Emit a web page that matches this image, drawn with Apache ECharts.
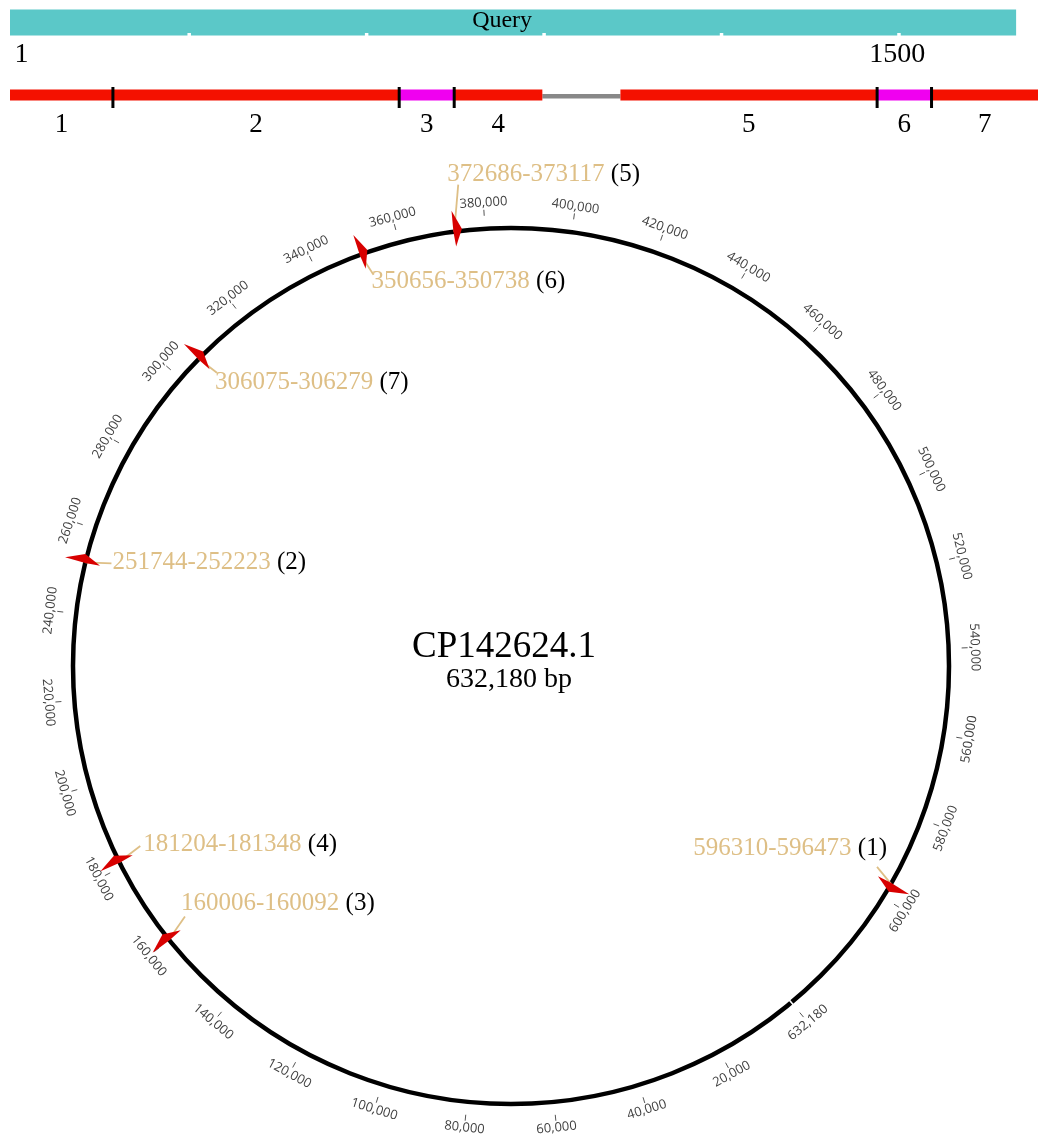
<!DOCTYPE html>
<html>
<head>
<meta charset="utf-8">
<script src="https://cdn.jsdelivr.net/npm/echarts@6/dist/echarts.min.js"></script>
<style>
html,body{margin:0;padding:0;background:#fff;}
#main{width:1038px;height:1138px;}
</style>
</head>
<body>
<div id="main"></div>
<script>
// ---------------- data ----------------
const genomeName = 'CP142624.1';
const genomeSizeLabel = '632,180 bp';
const genomeLength = 632180;

const tickValues = [20000, 40000, 60000, 80000, 100000, 120000, 140000, 160000, 180000, 200000,
  220000, 240000, 260000, 280000, 300000, 320000, 340000, 360000, 380000, 400000,
  420000, 440000, 460000, 480000, 500000, 520000, 540000, 560000, 580000, 600000, 632180];
const tickLabels = ['20,000', '40,000', '60,000', '80,000', '100,000', '120,000', '140,000', '160,000', '180,000', '200,000',
  '220,000', '240,000', '260,000', '280,000', '300,000', '320,000', '340,000', '360,000', '380,000', '400,000',
  '420,000', '440,000', '460,000', '480,000', '500,000', '520,000', '540,000', '560,000', '580,000', '600,000', '632,180'];

const hitIds    = [1, 2, 3, 4, 5, 6, 7];
const hitStarts = [596310, 251744, 160006, 181204, 372686, 350656, 306075];
const hitEnds   = [596473, 252223, 160092, 181348, 373117, 350738, 306279];

const queryLength = 1701;
const queryTickValues = [300, 600, 900, 1200, 1500];
const queryEndValues = [1, 1500];
const queryEndLabels = ['1', '1500'];
const queryTitle = 'Query';

const segNames  = ['1', '2', '3', '4', '5', '6', '7'];
const segStarts = [0, 174, 658, 751, 1032, 1466, 1558];
const segEnds   = [174, 658, 751, 900, 1466, 1558, 1738];
const segKinds  = ['a', 'a', 'b', 'a', 'a', 'b', 'a'];
const gapStart = 900, gapEnd = 1032;
const separatorValues = [174, 658, 751, 1466, 1558];
const subjectMax = 1738;

// ---------------- layout / style ----------------
const R = 438;
const TAN = '#DEBF86';
const MARK_RED = '#d80000';
const SEG_COLORS = {a: '#f41100', b: '#f000f0'};
const SERIF = '"Liberation Serif","Times New Roman",serif';
const SANS = '"Open Sans","Noto Sans",sans-serif';
// label anchor / connector end offsets (px) relative to each hit mark
const hitLabelLayout = [
  {dx: -4, dy: -35, lx: -14, ly: -17, align: 'right'},
  {dx: 27, dy: 0, lx: 26, ly: 1, align: 'left'},
  {dx: 12, dy: -36, lx: 16, ly: -23, align: 'left'},
  {dx: 24, dy: -17, lx: 21, ly: -16, align: 'left'},
  {dx: -7, dy: -57, lx: 4, ly: -47, align: 'left'},
  {dx: 11, dy: 27, lx: 13, ly: 20, align: 'left'},
  {dx: 16, dy: 24, lx: 18, ly: 14, align: 'left'}
];

const chart = echarts.init(document.getElementById('main'), null, {renderer: 'canvas', width: 1038, height: 1138});

function textRotation(p, cs) {
  const a = Math.atan2(-(p[1] - cs.cy), p[0] - cs.cx);
  let rot = a - Math.PI / 2;
  while (rot > Math.PI) rot -= 2 * Math.PI;
  while (rot <= -Math.PI) rot += 2 * Math.PI;
  if (rot > Math.PI / 2 + 1e-6) rot -= Math.PI;
  else if (rot < -Math.PI / 2 - 1e-6) rot += Math.PI;
  return rot;
}

const option = {
  animation: false,
  backgroundColor: '#ffffff',
  grid: {left: 10, right: 0, top: 0, height: 150, show: false},
  xAxis: {type: 'value', min: 0, max: subjectMax, show: false},
  yAxis: {type: 'value', min: 0, max: 150, inverse: true, show: false},
  polar: {center: [511, 666], radius: [0, R]},
  angleAxis: {
    type: 'value', min: 0, max: genomeLength, startAngle: -50.2, clockwise: true,
    axisLine: {show: true, lineStyle: {color: '#000', width: 4.5}},
    axisTick: {show: false}, axisLabel: {show: false},
    splitLine: {show: false}, splitArea: {show: false}
  },
  radiusAxis: {type: 'value', min: 0, max: R, show: false, splitLine: {show: false}, axisLine: {show: false}, axisTick: {show: false}, axisLabel: {show: false}},
  graphic: [
    {type: 'text', x: 504, y: 647, style: {text: genomeName, font: '37px ' + SERIF, fill: '#000', align: 'center', verticalAlign: 'middle'}},
    {type: 'text', x: 509, y: 680, style: {text: genomeSizeLabel, font: '28px ' + SERIF, fill: '#000', align: 'center', verticalAlign: 'middle'}}
  ],
  series: [
    // query bar
    {
      type: 'custom', coordinateSystem: 'cartesian2d', silent: true,
      data: [[0, queryLength]], encode: {x: [0, 1]},
      renderItem(params, api) {
        const a = api.coord([api.value(0), 9.5]);
        const b = api.coord([api.value(1), 35.5]);
        const t = api.coord([832, 21]);
        return {type: 'group', children: [
          {type: 'rect', shape: {x: a[0], y: a[1], width: b[0] - a[0], height: b[1] - a[1]}, style: {fill: '#5bc8c8'}},
          {type: 'text', x: t[0], y: t[1], style: {text: queryTitle, font: '24px ' + SERIF, fill: '#000', align: 'center', verticalAlign: 'middle'}}
        ]};
      }
    },
    // query notches
    {
      type: 'custom', coordinateSystem: 'cartesian2d', silent: true,
      data: queryTickValues.map(v => [v]), encode: {x: 0},
      renderItem(params, api) {
        const p = api.coord([api.value(0), 33]);
        return {type: 'rect', shape: {x: p[0], y: p[1], width: 3.5, height: 3}, style: {fill: '#ffffff'}};
      }
    },
    // query end labels
    {
      type: 'custom', coordinateSystem: 'cartesian2d', silent: true,
      data: queryEndValues.map(v => [v]), encode: {x: 0},
      renderItem(params, api) {
        const i = params.dataIndex;
        const p = api.coord([api.value(0), 55]);
        return {type: 'text', x: i === 0 ? p[0] + 4 : p[0], y: p[1], style: {text: queryEndLabels[i], font: '28px ' + SERIF, fill: '#000', align: i === 0 ? 'left' : 'center', verticalAlign: 'middle'}};
      }
    },
    // subject gap line
    {
      type: 'custom', coordinateSystem: 'cartesian2d', silent: true,
      data: [[gapStart, gapEnd]], encode: {x: [0, 1]},
      renderItem(params, api) {
        const a = api.coord([api.value(0), 94]);
        const b = api.coord([api.value(1), 98.5]);
        return {type: 'rect', shape: {x: a[0], y: a[1], width: b[0] - a[0], height: b[1] - a[1]}, style: {fill: '#888888'}};
      }
    },
    // subject segments
    {
      type: 'custom', coordinateSystem: 'cartesian2d', silent: true,
      data: segStarts.map((s, i) => [s, segEnds[i]]), encode: {x: [0, 1]},
      renderItem(params, api) {
        const i = params.dataIndex;
        const a = api.coord([api.value(0), 89.5]);
        const b = api.coord([api.value(1), 100.5]);
        const m = api.coord([(api.value(0) + api.value(1)) / 2, 125]);
        return {type: 'group', children: [
          {type: 'rect', shape: {x: a[0], y: a[1], width: b[0] - a[0], height: b[1] - a[1]}, style: {fill: SEG_COLORS[segKinds[i]]}},
          {type: 'text', x: m[0], y: m[1], style: {text: segNames[i], font: '27px ' + SERIF, fill: '#000', align: 'center', verticalAlign: 'middle'}}
        ]};
      }
    },
    // separators
    {
      type: 'custom', coordinateSystem: 'cartesian2d', silent: true, z: 5,
      data: separatorValues.map(v => [v]), encode: {x: 0},
      renderItem(params, api) {
        const a = api.coord([api.value(0), 87]);
        const b = api.coord([api.value(0), 108]);
        return {type: 'rect', shape: {x: a[0] - 1.5, y: a[1], width: 3, height: b[1] - a[1]}, style: {fill: '#000'}};
      }
    },
    // circular ticks and labels
    {
      type: 'custom', coordinateSystem: 'polar', silent: true,
      data: tickValues.map(v => [R, v]),
      renderItem(params, api) {
        const i = params.dataIndex;
        const cs = params.coordSys;
        const v = api.value(1);
        const p1 = api.coord([451, v]);
        const p2 = api.coord([457, v]);
        const pt = api.coord([464, v]);
        return {type: 'group', children: [
          {type: 'line', shape: {x1: p1[0], y1: p1[1], x2: p2[0], y2: p2[1]}, style: {stroke: '#555', lineWidth: 1}},
          {type: 'text', x: pt[0], y: pt[1], rotation: textRotation(pt, cs), style: {x: 0, y: 0, text: tickLabels[i], font: '13px ' + SANS, fill: '#404040', align: 'center', verticalAlign: 'middle'}}
        ]};
      }
    },
    // origin gap
    {
      type: 'custom', coordinateSystem: 'polar', silent: true,
      data: [[R, genomeLength]],
      renderItem(params, api) {
        const v = api.value(1);
        const a = api.coord([433, v]);
        const b = api.coord([443, v]);
        return {type: 'line', shape: {x1: a[0], y1: a[1], x2: b[0], y2: b[1]}, style: {stroke: '#fff', lineWidth: 1.6}};
      }
    },
    // hits
    {
      type: 'custom', coordinateSystem: 'polar', silent: true, z: 6,
      data: hitStarts.map((s, i) => [R, (s + hitEnds[i]) / 2]),
      renderItem(params, api) {
        const i = params.dataIndex;
        const cs = params.coordSys;
        const p = api.coord([R, api.value(1)]);
        const ux = (p[0] - cs.cx) / R, uy = (p[1] - cs.cy) / R;
        const vx = -uy, vy = ux;
        const pt = (a, b) => [p[0] + a * ux + b * vx, p[1] + a * uy + b * vy];
        const L = hitLabelLayout[i];
        return {type: 'group', children: [
          {type: 'line', shape: {x1: p[0], y1: p[1], x2: p[0] + L.lx, y2: p[1] + L.ly}, style: {stroke: TAN, lineWidth: 1.8}},
          {type: 'polygon', shape: {points: [pt(21, 0), pt(2, 8), pt(-15, 0), pt(0, -0.8)]}, style: {fill: MARK_RED}},
          {type: 'text', x: p[0] + L.dx, y: p[1] + L.dy, style: {
            text: '{a|' + hitStarts[i] + '-' + hitEnds[i] + '} {b|(' + hitIds[i] + ')}',
            font: '25px ' + SERIF, fill: '#000', align: L.align, verticalAlign: 'middle',
            rich: {
              a: {fill: TAN, font: '25px ' + SERIF, fontSize: 25, fontFamily: SERIF},
              b: {fill: '#000', font: '25px ' + SERIF, fontSize: 25, fontFamily: SERIF}
            }
          }}
        ]};
      }
    }
  ]
};
chart.setOption(option);
</script>
</body>
</html>
